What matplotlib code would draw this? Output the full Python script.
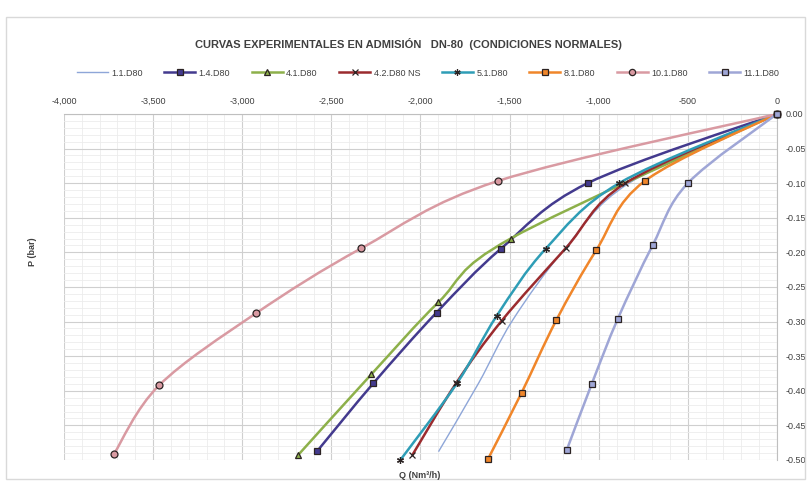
import matplotlib
matplotlib.use("Agg")
import matplotlib.pyplot as plt
from matplotlib.path import Path
from matplotlib.patches import PathPatch, Rectangle
from matplotlib.ticker import MultipleLocator, FuncFormatter
import numpy as np

plt.rcParams['font.family'] = ['Liberation Sans Narrow', 'Liberation Sans', 'DejaVu Sans']

# caudal Q (Nm3/h) y presion P (bar) de cada ensayo
q_11 = [0, -830, -1191, -1483, -1674, -1899]
p_11 = [0.0, -0.100, -0.195, -0.298, -0.389, -0.488]

q_14 = [0, -1062, -1550, -1910, -2264, -2579]
p_14 = [0.0, -0.100, -0.195, -0.287, -0.389, -0.487]

q_41 = [0, -1494, -1899, -2275, -2687]
p_41 = [0.0, -0.180, -0.272, -0.376, -0.493]

q_42 = [0, -850, -1185, -1545, -1800, -2046]
p_42 = [0.0, -0.100, -0.194, -0.299, -0.389, -0.493]

q_51 = [0, -885, -1298, -1573, -1795, -2113]
p_51 = [0.0, -0.100, -0.195, -0.292, -0.389, -0.500]

q_81 = [0, -742, -1014, -1238, -1433, -1620]
p_81 = [0.0, -0.097, -0.197, -0.298, -0.403, -0.498]

q_101 = [0, -1567, -2331, -2923, -3466, -3719]
p_101 = [0.0, -0.097, -0.194, -0.288, -0.392, -0.491]

q_111 = [0, -500, -698, -893, -1039, -1180]
p_111 = [0.0, -0.100, -0.190, -0.296, -0.390, -0.486]

series = [
    ('1.1.D80', q_11, p_11, '#8EA6D8', None, 1.0),
    ('1.4.D80', q_14, p_14, '#433A8E', 's', 1.8),
    ('4.1.D80', q_41, p_41, '#8DB04A', '^', 1.8),
    ('4.2.D80 NS', q_42, p_42, '#9B2B2E', 'x', 1.8),
    ('5.1.D80', q_51, p_51, '#2E9DB6', (6, 2, 0), 1.8),
    ('8.1.D80', q_81, p_81, '#F0862A', 's', 1.8),
    ('10.1.D80', q_101, p_101, '#D99AA2', 'o', 1.8),
    ('11.1.D80', q_111, p_111, '#9FA6D6', 's', 1.8),
]


def smooth_path(x, y):
    # curva suavizada tipo Excel (bezier por los puntos)
    pts = np.column_stack([x, y]).astype(float)
    ext = np.vstack([pts[0], pts, pts[-1]])
    verts = [pts[0]]
    codes = [Path.MOVETO]
    for i in range(len(pts) - 1):
        p0, p1, p2, p3 = ext[i], ext[i + 1], ext[i + 2], ext[i + 3]
        verts += [p1 + (p2 - p0) / 6, p2 - (p3 - p1) / 6, p2]
        codes += [Path.CURVE4] * 3
    return Path(verts, codes)


fig = plt.figure(figsize=(8.08, 4.84), dpi=100)
fig.patches.append(Rectangle((0.008, 0.01), 0.988, 0.955, transform=fig.transFigure,
                             fill=False, edgecolor='#d9d9d9', linewidth=1.0))
ax = fig.add_axes([0.0792, 0.0496, 0.8824, 0.715])

for name, q, p, col, mk, lw in series:
    ax.add_patch(PathPatch(smooth_path(q, p), facecolor='none', edgecolor=col,
                           linewidth=lw, zorder=3))
    if mk is not None:
        ax.plot(q, p, linestyle='none', marker=mk, markersize=5,
                markerfacecolor=col, markeredgecolor='#2b2323', markeredgewidth=0.9,
                zorder=4, clip_on=False)
    ax.plot([], [], color=col, linewidth=lw, marker=mk, markersize=4.5,
            markerfacecolor=col, markeredgecolor='#2b2323', markeredgewidth=0.9, label=name)

ax.set_xlim(-4000, 0)
ax.set_ylim(-0.5, 0)
ax.xaxis.set_major_locator(MultipleLocator(500))
ax.xaxis.set_minor_locator(MultipleLocator(100))
ax.yaxis.set_major_locator(MultipleLocator(0.05))
ax.yaxis.set_minor_locator(MultipleLocator(0.01))
ax.xaxis.set_major_formatter(FuncFormatter(lambda v, _: '0' if abs(v) < 1e-9 else f'{v:,.0f}'))
ax.yaxis.set_major_formatter(FuncFormatter(lambda v, _: '0.00' if abs(v) < 1e-9 else f'{v:.2f}'))
ax.xaxis.tick_top()
ax.yaxis.tick_right()
ax.tick_params(which='both', length=0, labelsize=6.5, colors='#404040', pad=6)
ax.grid(which='major', color='#cfcfcf', linewidth=0.8)
ax.grid(which='minor', color='#ececec', linewidth=0.6)
ax.set_axisbelow(True)
for s in ['left', 'bottom']:
    ax.spines[s].set_visible(False)
for s in ['top', 'right']:
    ax.spines[s].set_color('#bfbfbf')
    ax.spines[s].set_linewidth(0.8)

fig.text(0.505, 0.909, 'CURVAS EXPERIMENTALES EN ADMISIÓN   DN-80  (CONDICIONES NORMALES)',
         ha='center', va='center', fontsize=8, fontweight='bold', color='#404040')
fig.text(0.52, 0.017, 'Q (Nm³/h)', ha='center', va='center', fontsize=6.5,
         fontweight='bold', color='#404040')
fig.text(0.04, 0.48, 'P (bar)', ha='center', va='center', rotation=90, fontsize=6.5,
         fontweight='bold', color='#404040')

fig.legend(loc='center', bbox_to_anchor=(0.53, 0.849), ncol=8, frameon=False,
           fontsize=6.5, handlelength=3.4, columnspacing=2.4, handletextpad=0.4,
           labelcolor='#404040')

fig.savefig('out.png', dpi=100)
